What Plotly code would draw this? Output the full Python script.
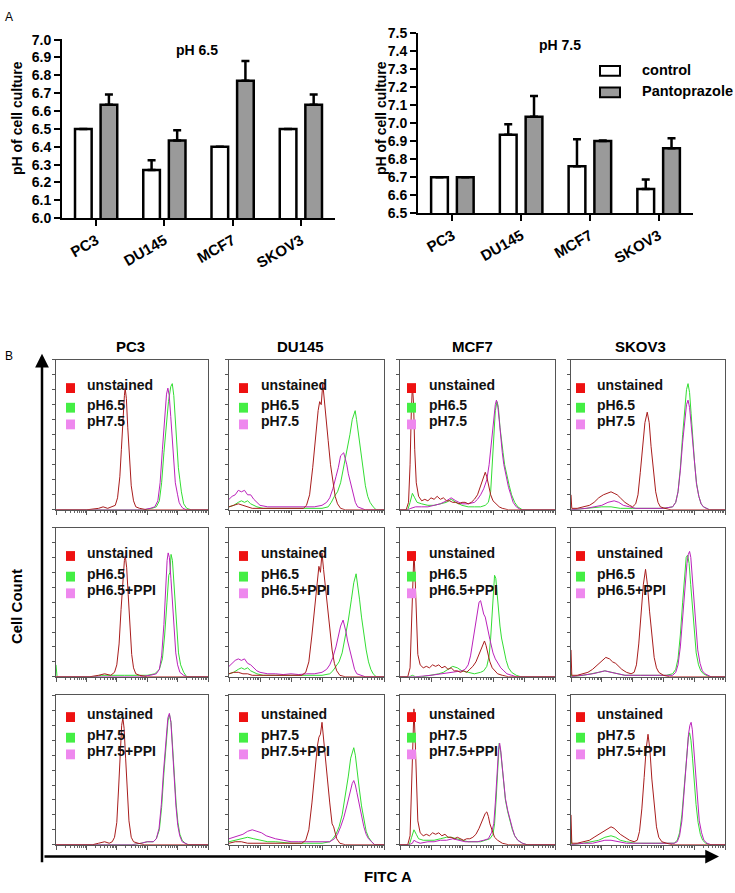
import math
import plotly.graph_objects as go

W, H = 735, 893


def px(x):
    return x / W


def py(y):
    return 1 - y / H


# ---------------- Panel A data ----------------
CATEGORIES = ["PC3", "DU145", "MCF7", "SKOV3"]
PH65_CONTROL = [6.50, 6.27, 6.40, 6.50]
PH65_CONTROL_ERR = [0.0, 0.055, 0.0, 0.0]
PH65_PANTO = [6.635, 6.435, 6.77, 6.635]
PH65_PANTO_ERR = [0.057, 0.057, 0.11, 0.057]
PH75_CONTROL = [6.70, 6.935, 6.76, 6.635]
PH75_CONTROL_ERR = [0.0, 0.058, 0.15, 0.052]
PH75_PANTO = [6.70, 7.035, 6.90, 6.86]
PH75_PANTO_ERR = [0.0, 0.115, 0.003, 0.056]
SERIES_NAMES = ["control", "Pantoprazole"]

# ---------------- Panel B data (x: % of FITC axis width, y: % of panel height) ----------------
CELL_LINES = ["PC3", "DU145", "MCF7", "SKOV3"]
ROW_LABELS = [["unstained", "pH6.5", "pH7.5"],
              ["unstained", "pH6.5", "pH6.5+PPI"],
              ["unstained", "pH7.5", "pH7.5+PPI"]]

PC3_R1_RED = [(0,0),(20,0),(28,1),(31,2),(34,1),(37,2),(39,3),(40.5,8),(42,22),(43,40),(44,62),(45,76),(45.5,81),(46.3,74),(47.2,55),(48.3,33),(49.5,16),(51,6),(52.5,2),(55,1),(60,0),(100,0)]
PC3_R1_GREEN = [(0,0),(58,0),(63,1),(66,2),(68,6),(69.5,18),(71,38),(72.5,58),(74,72),(75.5,82),(76.5,84),(77.5,76),(78.5,60),(79.5,42),(80.5,28),(81.5,20),(82.5,12),(84,4),(86,1),(89,0),(100,0)]
PC3_R1_VIOLET = [(0,0),(57,0),(62,1),(65,2),(67,6),(68.5,18),(70,40),(71.5,62),(72.7,77),(73.6,81),(74.5,76),(75.5,62),(76.5,45),(77.5,30),(78.5,18),(80,10),(81,5),(82,3),(83.5,1),(86,0),(100,0)]

PC3_R2_RED = [(0,0),(22,0),(28,1),(32,2),(36,1),(38.5,3),(40,8),(41.5,22),(42.8,45),(44,66),(45,78),(45.6,81),(46.5,73),(47.5,55),(48.6,33),(49.8,15),(51,6),(52.5,2),(55,1),(60,0),(100,0)]
PC3_R2_GREEN = [(0,8),(0.7,0),(25,0),(30,1),(45,1),(60,1),(65,2),(68,5),(70,12),(71.5,28),(73,50),(74.2,68),(75,70),(75.7,82),(76.6,78),(77.6,62),(78.6,44),(79.6,28),(80.6,16),(82,8),(84,3),(86,0),(100,0)]
PC3_R2_VIOLET = [(0,0),(55,0),(62,1),(66,2),(68,5),(69.5,14),(71,35),(72.2,60),(73.1,78),(73.8,83),(74.6,80),(75.6,66),(76.6,48),(77.6,30),(78.8,16),(80,8),(81.5,3),(84,1),(86,0),(100,0)]

PC3_R3_RED = [(0,0),(24,0),(28,1),(32,2),(35,1),(37,2),(38.5,5),(40,15),(41.2,38),(42.3,62),(43.2,80),(44,85),(44.8,78),(45.8,58),(46.8,35),(48,16),(49.5,5),(51,2),(54,1),(58,0),(100,0)]
PC3_R3_GREEN = [(0,0),(50,0),(56,1),(60,2),(64,2),(66,4),(68,10),(69.5,25),(71,48),(72.5,70),(73.7,83),(74.7,87),(75.7,82),(76.7,66),(77.8,46),(79,28),(80.2,15),(81.5,7),(83,3),(85,1),(87,0),(100,0)]
PC3_R3_VIOLET = [(0,0),(50,0),(56,1),(60,2),(64,2),(66,4),(67.8,11),(69.3,27),(70.8,50),(72.3,72),(73.6,85),(74.6,88),(75.6,82),(76.6,65),(77.7,44),(78.9,26),(80.1,13),(81.4,6),(83,2),(85,1),(87,0),(100,0)]

DU145_R1_RED = [(0,2),(3,3),(6,4),(9,3),(12,2),(15,1),(20,1),(30,1),(40,0.5),(48,1),(50,3),(52,10),(54,28),(56,50),(57.5,66),(58.5,72),(59.5,70),(60.5,84),(61.5,72),(62.5,62),(64,46),(65.5,30),(67,18),(68.5,9),(70,4),(72,1),(75,0),(100,0)]
DU145_R1_GREEN = [(0,2),(3,3),(6,5),(8,6),(10,5),(12,6),(14,4),(16,3),(18,2),(22,1),(30,1),(40,1),(50,1),(60,1),(64,2),(66,5),(68,9),(70,12),(72,18),(74,28),(76,38),(78,50),(79.5,60),(80.5,64),(81.4,66),(82.3,60),(83.5,50),(85,38),(86.5,26),(88,16),(89.5,9),(91,5),(93,2),(95,0),(100,0)]
DU145_R1_VIOLET = [(0,7),(2,9),(4,10),(6,13),(8,12),(10,13),(12,10),(14,10),(16,7),(18,5),(20,3),(25,2),(30,2),(35,1.5),(40,2),(45,2),(50,1.5),(55,2),(60,3),(63,5),(65,8),(67,14),(69,22),(70.5,28),(72,36),(73,37),(74,38),(75,34),(76,30),(77,24),(78.5,17),(80,10),(81.5,5),(83,2),(85,1),(88,0),(100,0)]

DU145_R2_RED = [(0,2),(3,3),(6,3),(9,2),(12,2),(15,1),(22,1),(30,1),(40,0.5),(47,1),(49.5,3),(51.5,10),(53.5,28),(55.5,50),(57,66),(58,74),(59,70),(60,83),(61,72),(62,62),(63.5,46),(65,30),(66.5,18),(68,9),(69.5,4),(71.5,1),(75,0),(100,0)]
DU145_R2_GREEN = [(0,2),(3,3),(6,5),(8,6),(10,5),(12,6),(14,4),(16,3),(18,2),(22,1),(30,1),(40,1),(50,1),(60,1),(65,2),(67,4),(69,7),(71,10),(73,16),(75,26),(77,38),(79,52),(80.5,63),(82,69),(83,62),(84.2,52),(85.5,40),(87,28),(88.5,18),(90,10),(91.5,5),(93,2),(95,0),(100,0)]
DU145_R2_VIOLET = [(0,7),(2,9),(4,11),(6,12),(8,11),(10,12),(12,9),(14,8),(16,6),(18,4),(20,3),(25,2),(30,2),(35,1.5),(40,2),(45,1.5),(50,2),(55,2),(60,3),(63,5),(65,8),(67,13),(69,20),(70.5,27),(72,34),(73.6,38),(74.5,35),(75.5,30),(76.5,24),(78,17),(79.5,10),(81,5),(82.5,2),(85,1),(88,0),(100,0)]

DU145_R3_RED = [(0,1),(4,2),(8,2),(12,1),(20,1),(30,1),(40,0.5),(47,1),(49.5,3),(51.5,10),(53.5,28),(55.5,50),(57,66),(58,72),(59,74),(60,82),(61,70),(62,60),(63.5,44),(65,28),(66.5,14),(67.5,12),(68.5,8),(69.5,4),(71.5,1),(75,0),(100,0)]
DU145_R3_GREEN = [(0,2),(4,3),(8,4),(12,5),(16,4),(20,3),(25,2),(30,2),(40,1),(50,1),(60,1),(65,2),(67,4),(69,7),(71,12),(73,20),(75,32),(77,46),(78.5,58),(79.5,62),(80.5,65),(81.5,60),(82.5,50),(84,38),(85.5,26),(87,16),(88.5,9),(90,5),(92,2),(94,0),(100,0)]
DU145_R3_VIOLET = [(0,4),(3,5),(6,6),(9,7),(12,9),(15,10),(18,9),(21,8),(24,6),(27,5),(30,4),(35,3),(40,2),(45,2),(50,2),(55,2),(60,2),(65,2),(68,4),(70,7),(72,12),(74,18),(76,26),(78,35),(79.5,41),(80.5,43),(81.5,40),(82.5,35),(84,27),(85.5,19),(87,12),(88.5,7),(90,4),(92,2),(94,0),(100,0)]

MCF7_R1_RED = [(0,0),(4,0),(5.5,5),(6.5,30),(7.3,65),(8,83),(8.8,70),(9.5,40),(10.5,18),(12,9),(14,6),(16,7),(18,6),(20,8),(22,7),(24,9),(26,7),(28,8),(30,6),(32,6),(34,5),(36,5),(38,4),(40,5),(42,5),(44,4),(46,5),(48,7),(50,10),(52,16),(53.5,22),(55,25),(56,22),(57,17),(58.5,10),(60,6),(62,4),(64,2),(66,1),(70,0),(100,0)]
MCF7_R1_GREEN = [(0,0),(5,0),(6.5,5),(8,11),(9.5,8),(11,5),(14,4),(18,3),(22,3),(26,4),(30,5),(33,7),(36,5),(40,3),(44,2),(48,2),(52,2),(55,3),(57,5),(58.5,12),(59.5,28),(60.5,50),(61.5,66),(62.6,72),(63.5,68),(64.5,55),(65.5,44),(66.5,38),(67.5,30),(69,22),(70.5,16),(72,10),(74,5),(76,2),(79,0),(100,0)]
MCF7_R1_VIOLET = [(0,0),(5,0),(7,1),(10,2),(14,2),(18,2),(22,3),(26,4),(30,6),(33,8),(36,6),(40,4),(44,4),(48,5),(50,7),(52,10),(54,14),(56,20),(57.5,30),(59,45),(60.5,62),(61.5,70),(62.2,73),(63,70),(64,60),(65,48),(66,38),(67,30),(68.5,22),(70,15),(71.5,10),(73,5),(75,2),(78,0),(100,0)]

MCF7_R2_RED = [(0,0),(5,0),(6.5,6),(7.5,35),(8.3,70),(9,84),(9.8,65),(10.6,35),(11.5,15),(13,8),(15,6),(17,7),(19,6),(21,8),(23,7),(25,8),(27,6),(29,7),(31,5),(33,6),(35,4),(37,4),(39,3),(41,4),(43,3),(45,5),(47,7),(49,10),(51,15),(53,21),(54.5,24),(55.5,21),(56.5,16),(58,10),(59.5,6),(61,4),(63,2),(66,1),(70,0),(100,0)]
MCF7_R2_GREEN = [(0,0),(6,0),(8,1),(10,0),(14,0),(20,1),(25,2),(28,3),(31,5),(34,7),(37,6),(40,4),(44,3),(48,2),(52,3),(54,4),(56,7),(57.5,14),(58.5,26),(59.5,44),(60.3,58),(61,68),(61.8,66),(62.6,56),(63.5,44),(64.5,34),(65.5,26),(67,18),(68.5,11),(70,6),(72,3),(75,1),(78,0),(100,0)]
MCF7_R2_VIOLET = [(0,0),(10,0),(20,1),(28,2),(32,3),(36,3),(40,4),(42,5),(44,8),(45.5,14),(47,24),(48.5,36),(50,46),(51,50),(52,51),(53,46),(54,42),(55,40),(56,34),(57,30),(58,25),(59,20),(60,16),(61.5,12),(63,9),(65,6),(67,4),(69,2),(72,1),(75,0),(100,0)]

MCF7_R3_RED = [(0,0),(5,0),(6.5,6),(7.5,40),(8.3,78),(9,91),(9.8,70),(10.6,38),(11.5,16),(13,8),(15,6),(17,7),(19,6),(21,8),(23,7),(25,8),(27,6),(29,7),(31,5),(33,5),(35,4),(37,5),(39,4),(41,3),(43,4),(45,4),(47,5),(49,7),(51,11),(53,16),(55,21),(56,22),(57,19),(58,14),(59.5,9),(61,5),(63,3),(66,1),(70,0),(100,0)]
MCF7_R3_GREEN = [(0,0),(6,0),(7.5,5),(9,10),(10.5,7),(12,4),(15,3),(18,3),(22,3),(26,4),(30,5),(33,5),(36,4),(40,3),(44,2),(48,2),(52,2),(55,3),(58,4),(60,7),(61,14),(62,30),(63,52),(64,68),(65,62),(66,50),(67,38),(68,30),(69.5,22),(71,15),(72.5,10),(74,6),(76,3),(79,1),(82,0),(100,0)]
MCF7_R3_VIOLET = [(0,0),(6,0),(8,1),(9,3),(10.5,2),(13,1),(18,2),(22,2),(26,3),(30,3),(34,4),(38,3),(42,2),(46,2),(50,2),(54,3),(57,4),(59,8),(60.5,14),(61.5,28),(62.7,50),(63.6,64),(64.3,68),(65,63),(66,52),(67,40),(68,31),(69.5,23),(71,16),(72.5,11),(74,6),(76,3),(79,1),(82,0),(100,0)]

SKOV3_R1_RED = [(0,10),(0.5,1),(4,1),(8,2),(12,3),(15,5),(18,8),(21,10),(24,11),(26,12),(28,11),(30,10),(32,8),(35,5),(38,3),(40,2),(42,4),(43.5,10),(45,25),(46.5,42),(48,58),(49.5,65),(50.8,58),(52,42),(53.5,25),(55,12),(56.5,5),(58,2),(61,1),(65,0),(100,0)]
SKOV3_R1_GREEN = [(0,0),(10,1),(20,2),(26,2),(32,1),(40,1),(50,1),(60,1),(66,2),(68,5),(69.5,12),(71,28),(72.5,50),(74,70),(75,80),(76,84),(77,78),(78,64),(79,48),(80.2,32),(81.5,18),(83,9),(84.5,4),(86,2),(88,1),(90,0),(100,0)]
SKOV3_R1_VIOLET = [(0,0),(10,1),(15,2),(20,3),(24,5),(28,6),(31,5),(34,3),(38,2),(42,1),(50,1),(60,1),(66,2),(68,5),(69.5,12),(71,26),(72.5,45),(74,62),(75,70),(76,73),(77,68),(78,57),(79,44),(80.2,30),(81.5,17),(83,9),(84.5,4),(86,2),(88,1),(90,0),(100,0)]

SKOV3_R2_RED = [(0,18),(0.5,1),(4,1),(8,2),(11,3),(14,5),(17,8),(20,11),(22.6,13),(25,12),(27,10),(29,9),(31,7),(33,5),(36,3),(39,2),(41,3),(42.5,8),(44,22),(45.5,42),(47,62),(48.4,72),(49.6,62),(51,44),(52.5,26),(54,13),(55.5,6),(57,3),(60,1),(64,0),(100,0)]
SKOV3_R2_GREEN = [(0,3),(0.5,0),(8,1),(14,2),(18,3),(22,4),(26,3),(30,2),(35,1),(45,1),(55,1),(62,1),(66,2),(68,5),(69.5,12),(71,28),(72.5,50),(73.8,70),(74.8,80),(75.7,81.5),(76.7,76),(77.7,62),(78.8,46),(80,30),(81.3,16),(82.8,8),(84.3,4),(86,2),(88,1),(90,0),(100,0)]
SKOV3_R2_VIOLET = [(0,0),(8,1),(14,2),(18,3),(22,4),(26,3),(30,2),(35,1),(45,1),(55,1),(62,1),(66,1),(68,3),(69.5,8),(71,20),(72.5,40),(74,60),(75.3,76),(76.2,82),(77,84),(77.8,80),(78.8,66),(79.8,50),(81,33),(82.3,18),(83.8,9),(85.3,4),(87,2),(89,1),(91,0),(100,0)]

SKOV3_R3_RED = [(0,20),(0.5,1),(4,1),(8,2),(12,3),(15,5),(18,7),(21,9),(24,11),(26,12),(28,11),(30,9),(32,7),(35,5),(38,3),(41,2),(43,3),(44.5,9),(46,24),(47.5,45),(48.8,64),(50,74),(51.2,64),(52.5,44),(54,25),(55.5,12),(57,5),(59,2),(62,1),(66,0),(100,0)]
SKOV3_R3_GREEN = [(0,10),(0.5,0),(8,1),(14,2),(18,3),(22,5),(26,6),(29,5),(32,3),(36,2),(42,1),(55,1),(62,1),(67,1),(69,3),(70.5,8),(72,20),(73.5,40),(75,60),(76.2,72),(77,75),(77.9,70),(78.9,58),(80,42),(81.2,27),(82.5,15),(84,7),(85.5,3),(87.5,1),(90,0),(100,0)]
SKOV3_R3_VIOLET = [(0,0),(8,1),(14,1),(18,2),(22,3),(26,3),(30,2),(36,1),(45,1),(55,1),(62,1),(67,1),(69,2),(70.5,6),(72,16),(73.5,36),(75,58),(76.3,74),(77.2,80),(78,82),(78.8,77),(79.8,62),(80.9,45),(82,29),(83.3,16),(84.8,8),(86.3,3),(88.3,1),(91,0),(100,0)]

HIST = [
    [(PC3_R1_RED, PC3_R1_GREEN, PC3_R1_VIOLET), (DU145_R1_RED, DU145_R1_GREEN, DU145_R1_VIOLET),
     (MCF7_R1_RED, MCF7_R1_GREEN, MCF7_R1_VIOLET), (SKOV3_R1_RED, SKOV3_R1_GREEN, SKOV3_R1_VIOLET)],
    [(PC3_R2_RED, PC3_R2_GREEN, PC3_R2_VIOLET), (DU145_R2_RED, DU145_R2_GREEN, DU145_R2_VIOLET),
     (MCF7_R2_RED, MCF7_R2_GREEN, MCF7_R2_VIOLET), (SKOV3_R2_RED, SKOV3_R2_GREEN, SKOV3_R2_VIOLET)],
    [(PC3_R3_RED, PC3_R3_GREEN, PC3_R3_VIOLET), (DU145_R3_RED, DU145_R3_GREEN, DU145_R3_VIOLET),
     (MCF7_R3_RED, MCF7_R3_GREEN, MCF7_R3_VIOLET), (SKOV3_R3_RED, SKOV3_R3_GREEN, SKOV3_R3_VIOLET)],
]

# ---------------- styling / geometry ----------------
FONT = "Arial, Liberation Sans, sans-serif"
LINE_COLORS = ["#a81c1c", "#33dd33", "#bb22bb"]
SWATCH_COLORS = ["#ee1111", "#44ee44", "#ee88ee"]
BAR_FILLS = ["white", "#9a9a9a"]

COL_X = [(56, 208), (229, 384), (400, 555), (571, 725)]
ROW_Y = [(358, 511), (529, 681), (700, 852)]
COL_TITLE_X = [130, 300, 472, 640]
LEG_ROW_OFF = [[26, 46, 63], [26, 47, 64], [19, 40, 57]]
LEG_SQ_OFF = [10, 10, 7, 5]
LEG_TX_OFF = [29, 30, 27, 24]

fig = go.Figure()

# ---- bar charts ----
bar_sets = [
    ("x", "y", [(PH65_CONTROL, PH65_CONTROL_ERR), (PH65_PANTO, PH65_PANTO_ERR)]),
    ("x2", "y2", [(PH75_CONTROL, PH75_CONTROL_ERR), (PH75_PANTO, PH75_PANTO_ERR)]),
]
for xa, ya, series in bar_sets:
    for s, (vals, errs) in enumerate(series):
        fig.add_trace(go.Bar(
            x=CATEGORIES, y=vals, name=SERIES_NAMES[s], xaxis=xa, yaxis=ya,
            marker=dict(color=BAR_FILLS[s], line=dict(color="black", width=2.5)),
            error_y=dict(type="data", symmetric=False, array=errs, arrayminus=[0] * len(errs),
                         color="black", thickness=2.5, width=4),
            showlegend=False, hoverinfo="skip",
        ))

bar_axis_common = dict(showline=True, linecolor="black", linewidth=2, ticks="outside",
                       ticklen=6, tickwidth=2, tickcolor="black", showgrid=False, zeroline=False)
ytickfont = dict(family=FONT, size=14, color="black", weight="bold")
xtickfont = dict(family=FONT, size=15, color="black", weight="bold")
layout = dict(
    width=W, height=H, margin=dict(l=0, r=0, t=0, b=0),
    paper_bgcolor="white", plot_bgcolor="white",
    barmode="group", bargap=0.25, bargroupgap=0.35,
    showlegend=False,
    xaxis=dict(domain=[px(62), px(335)], anchor="y", tickangle=-30, tickfont=xtickfont,
               **bar_axis_common),
    yaxis=dict(domain=[py(214), py(32)], anchor="x", range=[6.0, 7.001], dtick=0.1,
               tickformat=".1f", tickfont=ytickfont, **bar_axis_common),
    xaxis2=dict(domain=[px(418), px(693)], anchor="y2", tickangle=-30, tickfont=xtickfont,
                **bar_axis_common),
    yaxis2=dict(domain=[py(209), py(25)], anchor="x2", range=[6.5, 7.501], dtick=0.1,
                tickformat=".1f", tickfont=ytickfont, **bar_axis_common),
)

shapes = []
annotations = []

# custom legend for the pH 7.5 chart
for s, (y0, y1) in enumerate([(59, 69), (81, 91)]):
    shapes.append(dict(type="rect", xref="paper", yref="paper", x0=px(600), x1=px(620),
                       y0=py(y1), y1=py(y0), fillcolor=BAR_FILLS[s],
                       line=dict(color="black", width=2)))
    annotations.append(dict(x=px(640), y=py((y0 + y1) / 2 - 1), xref="paper", yref="paper",
                            text=SERIES_NAMES[s], showarrow=False, xanchor="left", yanchor="middle",
                            font=dict(family=FONT, size=14.5, color="black", weight="bold")))

# ---- histogram panels ----
major_ticks = [0, 20, 40, 60, 80, 100]
minor_ticks = [d * 20 + 20 * math.log10(m) for d in range(5) for m in range(2, 10)]

idx = 3
for r in range(3):
    for c in range(4):
        xl, xr = COL_X[c]
        yt, yb = ROW_Y[r]
        xa, ya = f"x{idx}", f"y{idx}"
        curves = HIST[r][c]
        for k in [1, 2, 0]:
            pts = curves[k]
            fig.add_trace(go.Scatter(
                x=[p[0] for p in pts], y=[p[1] for p in pts], mode="lines",
                line=dict(color=LINE_COLORS[k], width=1), xaxis=xa, yaxis=ya,
                showlegend=False, hoverinfo="skip",
            ))
        layout[f"xaxis{idx}"] = dict(
            domain=[px(xl), px(xr)], anchor=ya, range=[0, 100], showline=True, mirror=True,
            linecolor="#555", linewidth=1, ticks="outside", ticklen=4, tickcolor="#555",
            tickmode="array", tickvals=major_ticks, showticklabels=False, showgrid=False,
            zeroline=False,
            minor=dict(tickmode="array", tickvals=minor_ticks, ticks="outside", ticklen=2,
                       tickcolor="#666"),
        )
        layout[f"yaxis{idx}"] = dict(
            domain=[py(yb), py(yt)], anchor=xa, range=[0, 100], showline=True, mirror=True,
            linecolor="#555", linewidth=1, ticks="outside", ticklen=3, tickcolor="#555",
            dtick=10, showticklabels=False, showgrid=False, zeroline=False,
        )
        for k in range(3):
            cy = yt + LEG_ROW_OFF[r][k]
            sx = xl + LEG_SQ_OFF[c]
            shapes.append(dict(type="rect", xref="paper", yref="paper",
                               x0=px(sx), x1=px(sx + 9), y0=py(cy + 8), y1=py(cy - 2),
                               fillcolor=SWATCH_COLORS[k], line=dict(width=0)))
            annotations.append(dict(x=px(xl + LEG_TX_OFF[c]), y=py(cy), xref="paper", yref="paper",
                                    text=ROW_LABELS[r][k], showarrow=False, xanchor="left",
                                    yanchor="middle",
                                    font=dict(family=FONT, size=14, color="#111", weight="bold")))
        idx += 1


def txt(x, y, s, size=14, bold=True, angle=0, xanchor="center"):
    annotations.append(dict(x=px(x), y=py(y), xref="paper", yref="paper", text=s, showarrow=False,
                            xanchor=xanchor, yanchor="middle", textangle=angle,
                            font=dict(family=FONT, size=size, color="black",
                                      weight="bold" if bold else "normal")))


txt(3, 9, "A", size=12, bold=False, xanchor="left")
txt(3, 354, "B", size=12, bold=False, xanchor="left")
txt(197, 43, "pH 6.5", size=14)
txt(560, 38, "pH 7.5", size=14)
txt(17, 112, "pH of cell culture", size=14, angle=-90)
txt(381, 112, "pH of cell culture", size=14, angle=-90)
for c in range(4):
    txt(COL_TITLE_X[c], 345, CELL_LINES[c], size=15)
txt(16, 610, "Cell Count", size=15, angle=-90)
txt(388, 884, "FITC A", size=15)

annotations.append(dict(x=px(42), y=py(352), xref="paper", yref="paper", ax=0, ay=510,
                        showarrow=True, arrowhead=2, arrowsize=1.1, arrowwidth=2.5,
                        arrowcolor="black", text=""))
annotations.append(dict(x=px(719), y=py(864), xref="paper", yref="paper", ax=-676, ay=0,
                        showarrow=True, arrowhead=2, arrowsize=1.1, arrowwidth=2.5,
                        arrowcolor="black", text=""))

layout["shapes"] = shapes
layout["annotations"] = annotations
fig.update_layout(**layout)

fig.write_html("out.html", config={"displayModeBar": False},
               post_script="document.body.style.margin='0px';")
